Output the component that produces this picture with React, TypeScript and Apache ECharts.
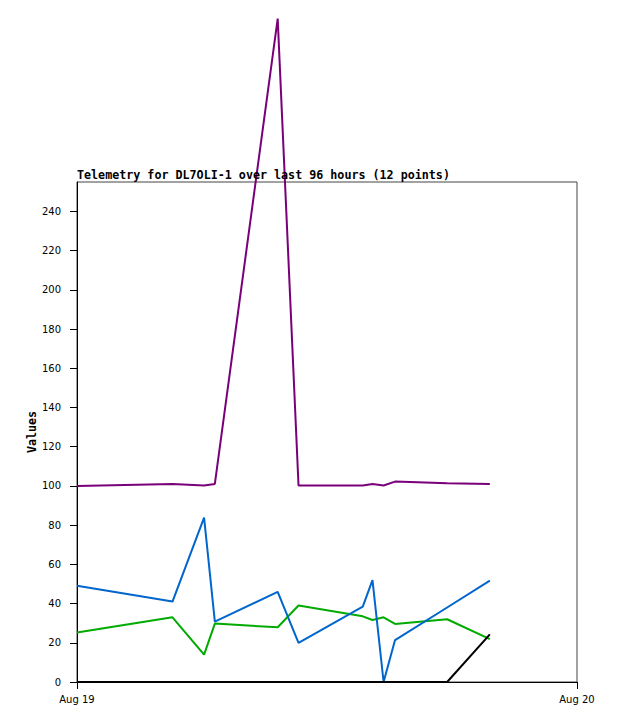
import React, { useEffect, useRef } from "react";
import * as echarts from "echarts";

const times = ["00:00", "04:35", "06:06", "06:37", "09:38", "10:38", "13:43", "14:11", "14:43", "15:16", "17:46", "19:49"];
const purpleValues = [100, 101, 100.2, 101, 338.3, 100.2, 100.2, 101, 100.2, 102.2, 101.3, 101];
const blueValues = [49.1, 41, 83.8, 30.8, 46, 20, 38.4, 52, 0, 21.4, 38, 51.7];
const greenValues = [25.2, 33, 14, 29.8, 27.9, 39, 33.5, 31.6, 33, 29.6, 32, 21.9];
const blackValues = [0, 0, 0, 0, 0, 0, 0, 0, 0, 0, 0, 24.3];
const yTicks = [0, 20, 40, 60, 80, 100, 120, 140, 160, 180, 200, 220, 240];
const xTicks = [0, 24];
const xTickLabels = ["Aug 19", "Aug 20"];
const yAxisTitle = "Values";

const toHours = (t: string) => {
  const [h, m] = t.split(":").map(Number);
  return h + m / 60;
};

const mk = (vals: number[]) => times.map((t, i) => [toHours(t), vals[i]]);

export default function App() {
  const ref = useRef<HTMLDivElement>(null);
  useEffect(() => {
    document.body.style.margin = "0";
    const chart = echarts.init(ref.current!, null, { renderer: "svg" });
    const line = (name: string, vals: number[], color: string, z: number) => ({
      name,
      type: "line",
      data: mk(vals),
      showSymbol: false,
      symbol: "none",
      clip: false,
      z,
      lineStyle: { color, width: 2 },
      itemStyle: { color },
    });
    chart.setOption({
      animation: false,
      title: {
        text: "Telemetry for DL7OLI-1 over last 96 hours (12 points)",
        left: 77,
        top: 169,
        padding: 0,
        textStyle: { fontFamily: "DejaVu Sans Mono", fontWeight: "bold", fontSize: 11.7, color: "#000" },
      },
      graphic: [
        {
          type: "text",
          x: 32,
          y: 432,
          rotation: Math.PI / 2,
          style: {
            text: yAxisTitle,
            align: "center",
            verticalAlign: "middle",
            fontFamily: "DejaVu Sans Mono",
            fontWeight: "bold",
            fontSize: 11.7,
            fill: "#000",
          },
        },
      ],
      grid: { left: 77, top: 182, width: 500, height: 500, show: true, borderColor: "#444", borderWidth: 1, backgroundColor: "transparent" },
      xAxis: {
        type: "value",
        min: 0,
        max: 24,
        splitLine: { show: false },
        axisLine: { lineStyle: { color: "#000", width: 1 } },
        axisTick: { show: true, length: 7, customValues: xTicks, lineStyle: { color: "#000" } },
        axisLabel: {
          customValues: xTicks,
          margin: 12,
          fontFamily: "DejaVu Sans",
          fontSize: 10,
          color: "#000",
          formatter: (v: number) => xTickLabels[xTicks.indexOf(v)] ?? "",
        },
      },
      yAxis: {
        type: "value",
        min: 0,
        max: 255,
        splitLine: { show: false },
        axisLine: { show: true, lineStyle: { color: "#000", width: 1 } },
        axisTick: { show: true, length: 7, customValues: yTicks, lineStyle: { color: "#000" } },
        axisLabel: { customValues: yTicks, margin: 16, fontFamily: "DejaVu Sans", fontSize: 10, color: "#000" },
      },
      series: [
        line("purple", purpleValues, "#7a007a", 2),
        line("green", greenValues, "#00aa00", 3),
        line("blue", blueValues, "#0066cc", 4),
        line("black", blackValues, "#000000", 5),
      ],
    });
    return () => chart.dispose();
  }, []);
  return <div ref={ref} style={{ width: 618, height: 723 }} />;
}
